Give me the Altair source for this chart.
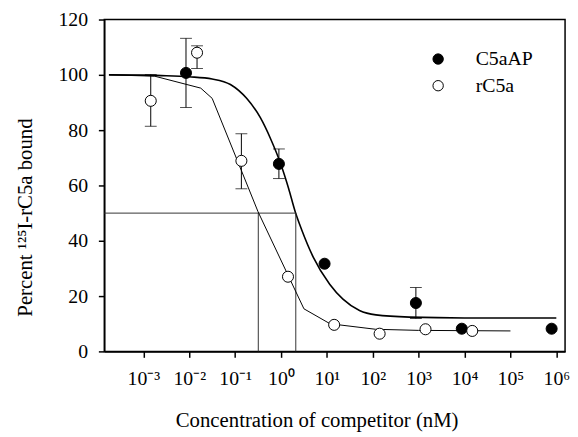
import altair as alt
import pandas as pd

# ---------------- data ----------------
series_names = ["C5aAP", "rC5a"]

# C5aAP (filled circles), concentration in nM
c5aap_x = [0.0085, 0.9, 8.9, 870, 8700, 790000]
c5aap_y = [100.7, 67.8, 31.7, 17.5, 8.2, 8.2]
c5aap_lo = [88.2, 62.5, None, 11.9, None, None]
c5aap_hi = [113.2, 73.2, None, 23.1, None, None]

# rC5a (open circles)
rc5a_x = [0.00145, 0.0148, 0.137, 1.42, 14.4, 141, 1410, 14700]
rc5a_y = [90.6, 108.0, 68.9, 27.0, 9.6, 6.4, 8.0, 7.4]
rc5a_lo = [81.4, 102.3, 58.8, None, None, None, None, None]
rc5a_hi = [100.1, 110.5, 78.7, None, None, None, None, None]

# fitted curve for C5aAP
fit_c5aap_x = [1.78e-4, 1e-3, 3.16e-3, 0.01, 0.0316, 0.079, 0.178, 0.355, 0.589,
               1.0, 1.46, 2.04, 2.82, 5.07, 11.5, 22.4, 51.3, 117, 631, 1e4, 1e6]
fit_c5aap_y = [100, 99.9, 99.7, 99.3, 98.5, 96.5, 91.5, 84.5, 77.0,
               67.5, 59.0, 50.5, 44.0, 34.0, 24.3, 18.9, 14.8, 13.2, 12.4, 12.1, 12.1]

# fitted curve for rC5a (polyline)
fit_rc5a_x = [1.78e-4, 1.78e-3, 0.0178, 0.0316, 0.316, 3.16, 11.7, 115, 1000, 1e5]
fit_rc5a_y = [100, 99.5, 95.2, 91.5, 50.5, 15.4, 10.0, 8.0, 7.6, 7.4]

# IC50 guide lines
ic50_rc5a = 0.32
ic50_c5aap = 2.1
half_level = 50

x_domain = [1.41e-4, 1.55e6]
y_ticks = [0, 20, 40, 60, 80, 100, 120]
x_ticks = [1e-3, 1e-2, 1e-1, 1e0, 1e1, 1e2, 1e3, 1e4, 1e5, 1e6]
x_tick_labels = ["10⁻³", "10⁻²", "10⁻¹", "10⁰", "10¹", "10²", "10³", "10⁴", "10⁵", "10⁶"]

# ---------------- tables ----------------
pts = pd.DataFrame({
    "x": c5aap_x + rc5a_x,
    "y": c5aap_y + rc5a_y,
    "lo": c5aap_lo + rc5a_lo,
    "hi": c5aap_hi + rc5a_hi,
    "series": ["C5aAP"] * len(c5aap_x) + ["rC5a"] * len(rc5a_x),
})
err = pts.dropna(subset=["lo", "hi"])
caps = pd.DataFrame({
    "x": list(err["x"]) + list(err["x"]),
    "y": list(err["lo"]) + list(err["hi"]),
})
fit1 = pd.DataFrame({"x": fit_c5aap_x, "y": fit_c5aap_y})
fit2 = pd.DataFrame({"x": fit_rc5a_x, "y": fit_rc5a_y})
hline = pd.DataFrame({"x": [x_domain[0]], "x2": [ic50_c5aap], "y": [half_level]})
vlines = pd.DataFrame({"x": [ic50_rc5a, ic50_c5aap], "y": [0, 0], "y2": [half_level, half_level]})

FONT = "Liberation Serif"
label_expr = "[" + ",".join("'" + s + "'" for s in x_tick_labels) + "][round(log(datum.value)/LN10)+3]"

xscale = alt.Scale(type="log", domain=x_domain, nice=False)
yscale = alt.Scale(domain=[0, 120], nice=False)

X = alt.X("x:Q", scale=xscale, axis=alt.Axis(
    values=x_ticks, labelExpr=label_expr, title="Concentration of competitor (nM)",
    labelPadding=12, labelFlush=False, labelOverlap=False,
    titleX=215, titleY=76, titleAlign="center", titleBaseline="alphabetic"))
Y = alt.Y("y:Q", scale=yscale, axis=alt.Axis(
    values=y_ticks, title="Percent ¹²⁵I-rC5a bound", labelPadding=11,
    titleAngle=-90, titleX=-80, titleY=200, titleAlign="center", titleBaseline="middle"))

guides_h = alt.Chart(hline).mark_rule(color="#333", strokeWidth=1).encode(
    x=alt.X("x:Q", scale=xscale), x2="x2:Q", y=alt.Y("y:Q", scale=yscale))
guides_v = alt.Chart(vlines).mark_rule(color="#333", strokeWidth=1).encode(
    x=alt.X("x:Q", scale=xscale), y=alt.Y("y:Q", scale=yscale), y2="y2:Q")

curve1 = alt.Chart(fit1).mark_line(color="black", strokeWidth=1.6, interpolate="monotone").encode(x=X, y=Y)
curve2 = alt.Chart(fit2).mark_line(color="black", strokeWidth=1.0).encode(
    x=alt.X("x:Q", scale=xscale), y=alt.Y("y:Q", scale=yscale))

bars = alt.Chart(err).mark_rule(color="black", strokeWidth=1).encode(
    x=alt.X("x:Q", scale=xscale), y=alt.Y("lo:Q", scale=yscale), y2="hi:Q")
capmarks = alt.Chart(caps).mark_tick(color="black", orient="horizontal", size=12, thickness=1).encode(
    x=alt.X("x:Q", scale=xscale), y=alt.Y("y:Q", scale=yscale))

points = alt.Chart(pts).mark_point(shape="circle", filled=True, stroke="black", strokeWidth=1,
                                   size=125, opacity=1).encode(
    x=alt.X("x:Q", scale=xscale), y=alt.Y("y:Q", scale=yscale),
    fill=alt.Fill("series:N", scale=alt.Scale(domain=series_names, range=["black", "white"]),
                  legend=alt.Legend(orient="none", legendX=328, legendY=30, title=None,
                                    labelFont=FONT, labelFontSize=20, labelColor="black",
                                    symbolType="circle", symbolSize=110, symbolStrokeColor="black",
                                    symbolStrokeWidth=1, labelOffset=28, rowPadding=7, padding=0)),
)

chart = alt.layer(curve1, guides_h, guides_v, curve2, bars, capmarks, points).properties(
    width=466.5, height=336,
    autosize=alt.AutoSizeParams(type="none"),
    padding={"left": 97.5, "top": 9, "right": 5, "bottom": 84},
    background="white",
).configure_view(stroke="black", strokeWidth=1.5).configure_axis(
    domainColor="black", domainWidth=1.5, tickColor="black", tickWidth=1.5, tickSize=6,
    labelFont=FONT, labelFontSize=20, labelColor="black",
    titleFont=FONT, titleFontSize=21, titleColor="black", titleFontWeight="normal",
    grid=False,
)

chart.save("out.html", embed_options={"renderer": "svg", "actions": False})
